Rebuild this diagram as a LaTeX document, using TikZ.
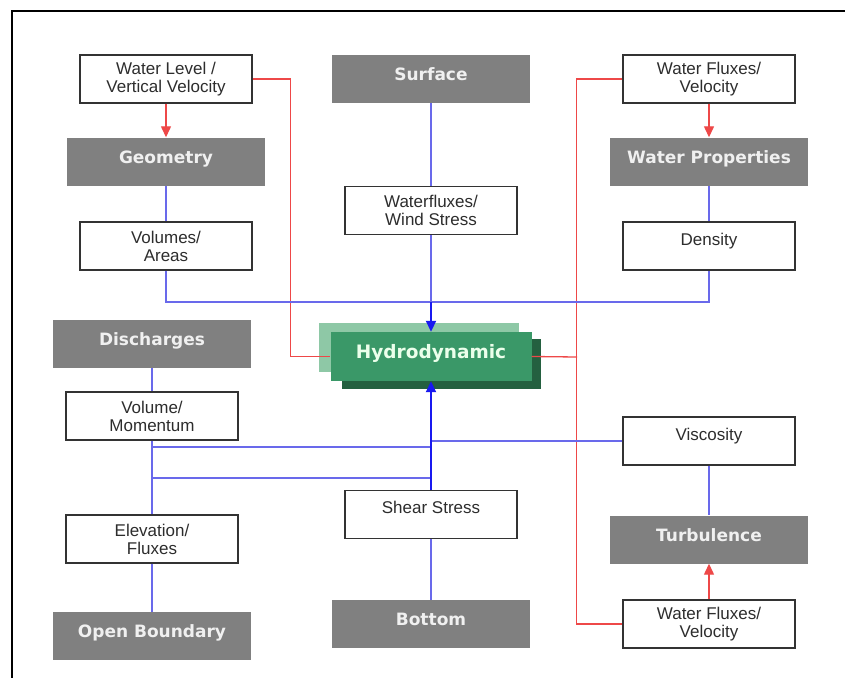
\documentclass[tikz,border=0pt]{standalone}
\usepackage{fontspec}
\setmainfont{Liberation Sans}
\newfontfamily\labelfont{DejaVu Sans}
\usetikzlibrary{arrows.meta}

\definecolor{boxgray}{RGB}{128,128,128}
\definecolor{linkred}{RGB}{238,72,72}
\definecolor{linkblue}{RGB}{105,105,235}
\definecolor{flowblue}{RGB}{25,25,240}
\definecolor{hydrolight}{RGB}{142,200,166}
\definecolor{hydromain}{RGB}{58,152,104}
\definecolor{hydrodark}{RGB}{36,96,64}
\definecolor{textgray}{RGB}{45,45,45}

\tikzset{
  whitebox/.style={draw=black!80, line width=1.2pt, fill=white,
    minimum width=172pt, minimum height=48pt, inner sep=0pt,
    text=textgray, align=center, font=\fontsize{17}{18}\selectfont},
  oneline/.style={text height=12pt, text depth=14pt},
  graybox/.style={fill=boxgray, minimum width=198pt, minimum height=48pt,
    inner sep=0pt, text=white!94!black, text height=12pt, text depth=9pt,
    font=\labelfont\bfseries\fontsize{17}{20}\selectfont},
  redlink/.style={draw=linkred, line width=1.3pt},
  redarrow/.style={draw=linkred, fill=red!90!black, line width=1.3pt,
    -{Triangle[width=10pt,length=11pt]}},
  bluelink/.style={draw=linkblue, line width=1.4pt},
  bluearrow/.style={draw=flowblue, fill=flowblue, line width=1.9pt,
    -{Triangle[width=10pt,length=11pt]}},
}

\begin{document}
\begin{tikzpicture}[x=1pt,y=-1pt]
  \useasboundingbox (0,0) rectangle (845,677);
  \fill[white] (0,0) rectangle (845,677);
  % outer frame
  \draw[line width=2.6pt, black] (12,720) -- (12,11) -- (900,11);

  % central model block with its layered backdrop
  \fill[hydrolight] (319,323) rectangle (519,372);
  \fill[hydrodark] (342,339) rectangle (541,389);
  \node[fill=hydromain, minimum width=201pt, minimum height=49pt, inner sep=0pt,
        text=white!92!green, text height=13pt, text depth=9pt,
        font=\labelfont\bfseries\fontsize{18.5}{20}\selectfont]
        (hydro) at (431,356.5) {Hydrodynamic};

  % modules
  \node[graybox] (surf)   at (431,79)    {Surface};
  \node[graybox] (geom)   at (166,161.5) {Geometry};
  \node[graybox] (wprop)  at (709,161.5) {Water Properties};
  \node[graybox] (disch)  at (152,344)   {Discharges};
  \node[graybox] (turb)   at (709,539.5) {Turbulence};
  \node[graybox] (bottom) at (431,624)   {Bottom};
  \node[graybox] (openb)  at (152,636)   {Open Boundary};

  % exchanged quantities
  \node[whitebox] (wlv)   at (166,79)    {Water Level /\\Vertical Velocity};
  \node[whitebox] (wfv1)  at (709,79)    {Water Fluxes/\\Velocity};
  \node[whitebox] (wind)  at (431,210.5) {Waterfluxes/\\Wind Stress};
  \node[whitebox] (vol)   at (166,246)   {Volumes/\\Areas};
  \node[whitebox,oneline] (dens)  at (709,246)   {Density};
  \node[whitebox] (vm)    at (152,416)   {Volume/\\Momentum};
  \node[whitebox,oneline] (visc)  at (709,441) {Viscosity};
  \node[whitebox,oneline] (shear) at (431,514.5) {Shear Stress};
  \node[whitebox] (elev)  at (152,539)   {Elevation/\\Fluxes};
  \node[whitebox] (wfv2)  at (709,624)   {Water Fluxes/\\Velocity};

  % junction points
  \coordinate (topbus) at (431,302);
  \coordinate (rtrunk) at (577,357);
  \coordinate (lbusA)  at (152,447);
  \coordinate (lbusB)  at (152,478);

  % red links
  \draw[redlink] (wlv.east) -- ++(38,0) |- (hydro.west);
  \draw[redlink] (wfv1.west) -- ++(-46,0) |- (wfv2.west);
  \draw[redlink] (hydro.east) -- (rtrunk);
  \draw[redarrow] (wlv.south) -- (geom.north);
  \draw[redarrow] (wfv1.south) -- (wprop.north);
  \draw[redarrow] (wfv2.north) -- (turb.south);

  % blue links, upper half
  \draw[bluelink] (surf.south) -- (wind.north);
  \draw[bluelink] (wind.south) -- (topbus);
  \draw[bluelink] (geom.south) -- (vol.north);
  \draw[bluelink] (wprop.south) -- (dens.north);
  \draw[bluelink] (vol.south) |- (dens.south |- topbus) -- (dens.south);
  \draw[bluearrow] (topbus) -- (hydro.north);

  % blue links, lower half
  \draw[bluelink] (disch.south) -- (vm.north);
  \draw[bluelink] (vm.south) -- (elev.north);
  \draw[bluelink] (elev.south) -- (openb.north);
  \draw[bluelink] (lbusA) -- (lbusA -| hydro);
  \draw[bluelink] (lbusB) -- (lbusB -| hydro);
  \draw[bluelink] (visc.west) -- (visc.west -| hydro);
  \draw[bluelink] (visc.south) -- (turb.north);
  \draw[bluelink] (shear.south) -- (bottom.north);
  \draw[bluearrow] (shear.north) -- (hydro.south);
\end{tikzpicture}
\end{document}
